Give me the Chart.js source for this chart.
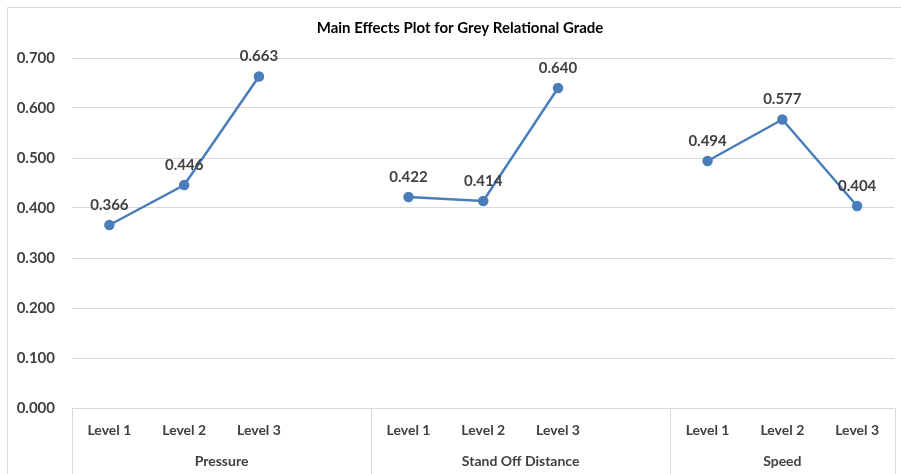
<!DOCTYPE html>
<html>
<head>
<meta charset="utf-8">
<script src="https://cdn.jsdelivr.net/npm/chart.js@4/dist/chart.umd.min.js"></script>
<style>
  html, body { margin: 0; padding: 0; background: #ffffff; }
  #wrap { width: 901px; height: 474px; position: relative; }
</style>
</head>
<body>
<div id="wrap"><canvas id="c" width="901" height="474"></canvas></div>
<script>
// ---- data ----
const levelLabels = ["Level 1", "Level 2", "Level 3", "", "Level 1", "Level 2", "Level 3", "", "Level 1", "Level 2", "Level 3"];
const groupNames = ["Pressure", "Stand Off Distance", "Speed"];
const groupStart = [0, 4, 8];   // first category index of each group
const groupEnd = [3, 7, 10];    // last category index of each group (incl. blank spacer)
const pressure = [0.366, 0.446, 0.663];
const standOff = [0.422, 0.414, 0.640];
const speed = [0.494, 0.577, 0.404];
const yTicks = [0, 0.1, 0.2, 0.3, 0.4, 0.5, 0.6, 0.7];
const chartTitle = "Main Effects Plot for Grey Relational Grade";

const seriesValues = [...pressure, null, ...standOff, null, ...speed];

const FONT = "Lato, 'Open Sans', sans-serif";
const TEXT = "#404040";
const GRID = "#d9d9d9";
const BLUE = "#4a7ebb";

const framePlugin = {
  id: "frame",
  beforeDraw(chart) {
    const ctx = chart.ctx;
    ctx.save();
    ctx.fillStyle = "#ffffff";
    ctx.fillRect(0, 0, chart.width, chart.height);
    ctx.strokeStyle = GRID;
    ctx.lineWidth = 1;
    ctx.beginPath();
    ctx.moveTo(7.5, chart.height);
    ctx.lineTo(7.5, 7.5);
    ctx.lineTo(chart.width, 7.5);
    ctx.stroke();
    ctx.font = "bold 15px " + FONT;
    ctx.fillStyle = "#000000";
    ctx.textAlign = "center";
    ctx.textBaseline = "middle";
    ctx.fillText(chartTitle, 460, 28);
    ctx.restore();
  }
};

const labelsPlugin = {
  id: "pointLabels",
  afterDatasetsDraw(chart) {
    const ctx = chart.ctx;
    const meta = chart.getDatasetMeta(0);
    ctx.save();
    ctx.font = "bold 15px " + FONT;
    ctx.fillStyle = TEXT;
    ctx.textAlign = "center";
    ctx.textBaseline = "middle";
    meta.data.forEach((pt, i) => {
      const v = seriesValues[i];
      if (v === null || v === undefined) return;
      ctx.fillText(v.toFixed(3), pt.x, pt.y - 20);
    });
    ctx.restore();
  }
};

const groupPlugin = {
  id: "groups",
  afterDraw(chart) {
    const ctx = chart.ctx;
    const xs = chart.scales.x;
    const bottom = chart.chartArea.bottom;
    const half = (xs.getPixelForValue(1) - xs.getPixelForValue(0)) / 2;
    ctx.save();
    ctx.strokeStyle = GRID;
    ctx.lineWidth = 1;
    const edges = [xs.getPixelForValue(0) - half];
    groupEnd.forEach(e => edges.push(xs.getPixelForValue(e) + half));
    ctx.beginPath();
    edges.forEach(x => {
      const px = Math.round(x) + 0.5;
      ctx.moveTo(px, bottom);
      ctx.lineTo(px, chart.height);
    });
    ctx.stroke();
    ctx.font = "bold 14px " + FONT;
    ctx.fillStyle = TEXT;
    ctx.textAlign = "center";
    ctx.textBaseline = "middle";
    groupNames.forEach((name, g) => {
      const l = xs.getPixelForValue(groupStart[g]) - half;
      const r = xs.getPixelForValue(groupEnd[g]) + half;
      ctx.fillText(name, (l + r) / 2, 461);
    });
    ctx.restore();
  }
};

new Chart(document.getElementById("c"), {
  type: "line",
  data: {
    labels: levelLabels,
    datasets: [{
      data: seriesValues,
      borderColor: BLUE,
      backgroundColor: BLUE,
      borderWidth: 2.5,
      pointRadius: 4,
      pointHoverRadius: 4,
      pointBackgroundColor: BLUE,
      pointBorderColor: BLUE,
      spanGaps: false,
      tension: 0
    }]
  },
  options: {
    responsive: false,
    animation: false,
    events: [],
    layout: { padding: { left: 0, right: 4, top: 58, bottom: 0 } },
    plugins: {
      legend: { display: false },
      tooltip: { enabled: false },
      title: { display: false }
    },
    scales: {
      y: {
        min: 0,
        max: 0.7,
        afterFit(scale) { scale.width = 72; },
        afterBuildTicks(scale) { scale.ticks = yTicks.map(v => ({ value: v })); },
        ticks: {
          padding: 17,
          color: TEXT,
          font: { family: FONT, size: 15, weight: "bold" },
          callback: v => Number(v).toFixed(3)
        },
        grid: { color: GRID, lineWidth: 1, drawTicks: false },
        border: { display: false }
      },
      x: {
        offset: true,
        afterFit(scale) { scale.height = 66; },
        ticks: {
          padding: 14,
          color: TEXT,
          autoSkip: false,
          maxRotation: 0,
          font: { family: FONT, size: 14, weight: "bold" }
        },
        grid: { display: false, drawTicks: false },
        border: { display: false }
      }
    }
  },
  plugins: [framePlugin, labelsPlugin, groupPlugin]
});
</script>
</body>
</html>
